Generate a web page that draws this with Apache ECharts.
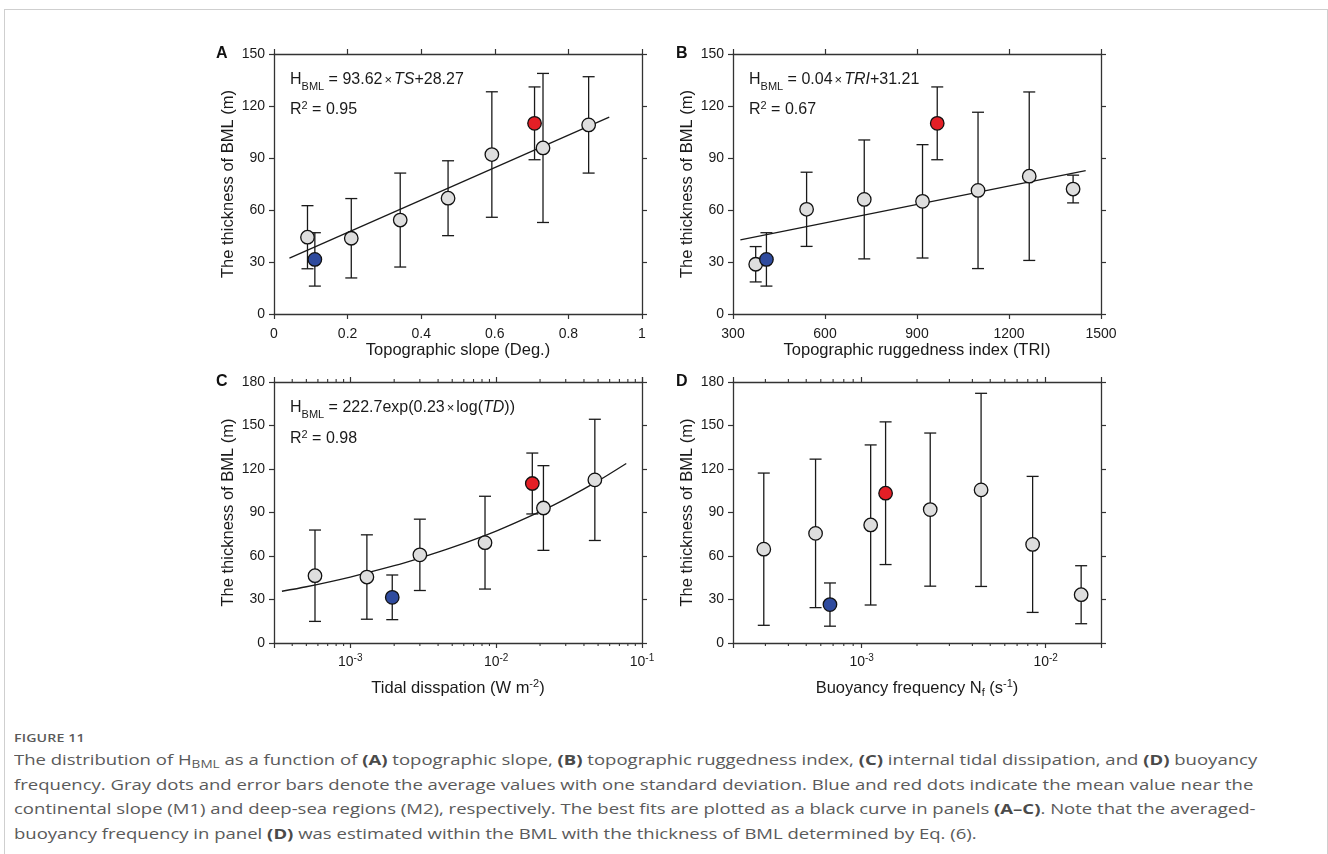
<!DOCTYPE html>
<html>
<head>
<meta charset="utf-8">
<title>Thickness of the bottom mixed layer</title>
<script src="https://cdn.jsdelivr.net/npm/echarts@6/dist/echarts.min.js"></script>
<style>
  html, body { margin: 0; padding: 0; background: #fff; width: 1328px; height: 854px; overflow: hidden; }
  #frame { position: absolute; left: 4px; top: 9px; width: 1322px; height: 900px; border: 1px solid #cfcfcf; border-bottom: none; }
  #chart { position: absolute; left: 0; top: 0; width: 1328px; height: 720px; }
  #caption { position: absolute; left: 14px; top: 729px; font-family: 'Open Sans', sans-serif; color: #5a5a5a;
             transform: scaleX(1.235); transform-origin: 0 0; }
  #caption .fig { font-size: 11.5px; font-weight: 600; line-height: 18px; letter-spacing: 0.1px; }
  #caption .txt { font-size: 15px; line-height: 24.7px; white-space: nowrap; }
  #caption .txt b { font-weight: 700; color: #4a4a4a; }
  #caption sub { font-size: 11px; vertical-align: -3px; line-height: 0; }
</style>
</head>
<body>
<div id="frame"></div>
<div id="chart"></div>
<div id="caption">
  <div class="fig">FIGURE 11</div>
  <div class="txt">The distribution of H<sub>BML</sub> as a function of <b>(A)</b> topographic slope, <b>(B)</b> topographic ruggedness index, <b>(C)</b> internal tidal dissipation, and <b>(D)</b> buoyancy</div>
  <div class="txt">frequency. Gray dots and error bars denote the average values with one standard deviation. Blue and red dots indicate the mean value near the</div>
  <div class="txt">continental slope (M1) and deep-sea regions (M2), respectively. The best fits are plotted as a black curve in panels <b>(A–C)</b>. Note that the averaged-</div>
  <div class="txt">buoyancy frequency in panel <b>(D)</b> was estimated within the BML with the thickness of BML determined by Eq. (6).</div>
</div>
<script>
// ---------------- data ----------------
// Panel A: topographic slope (deg) vs. BML thickness (m), mean ± one standard deviation
const slopeX    = [0.091, 0.210, 0.343, 0.473, 0.592, 0.731, 0.855];
const slopeMean = [44.3, 43.7, 54.2, 66.8, 92.0, 95.8, 109.1];
const slopeSd   = [18.2, 22.9, 27.1, 21.6, 36.2, 43.0, 27.8];
const slopeM1   = [0.111, 31.5, 15.4];   // [x, mean, sd] continental slope
const slopeM2   = [0.708, 110.0, 21.0];  // [x, mean, sd] deep sea
const slopeFit  = [[0.042, 32.2], [0.911, 113.6]];

// Panel B: topographic ruggedness index
const triX    = [374, 540, 728, 918, 1099, 1266, 1409];
const triMean = [28.7, 60.4, 66.1, 65.0, 71.3, 79.5, 72.1];
const triSd   = [10.2, 21.4, 34.3, 32.7, 45.1, 48.6, 8.0];
const triM1   = [409, 31.5, 15.4];
const triM2   = [966, 110.0, 21.0];
const triFit  = [[324, 42.7], [1450, 82.7]];

// Panel C: internal tidal dissipation (W m^-2)
const tdX    = [5.73e-4, 1.30e-3, 3.00e-3, 8.39e-3, 2.11e-2, 4.75e-2];
const tdMean = [46.4, 45.5, 60.8, 69.2, 93.1, 112.5];
const tdSd   = [31.5, 29.1, 24.6, 32.0, 29.2, 41.8];
const tdM1   = [1.94e-3, 31.5, 15.4];
const tdM2   = [1.77e-2, 110.0, 21.0];
const tdFit  = [[3.4e-4, 35.7], [5e-4, 38.8], [1e-3, 45.5], [2e-3, 53.3], [3e-3, 58.6],
                [5e-3, 65.9], [1e-2, 77.2], [2e-2, 90.6], [3e-2, 99.4], [5e-2, 111.8], [7.8e-2, 123.8]];

// Panel D: buoyancy frequency N_f (s^-1)
const nfX    = [2.94e-4, 5.62e-4, 1.12e-3, 2.36e-3, 4.46e-3, 8.50e-3, 1.56e-2];
const nfMean = [64.7, 75.6, 81.4, 92.0, 105.6, 68.0, 33.3];
const nfSd   = [52.5, 51.2, 55.2, 52.8, 66.6, 46.9, 20.0];
const nfM1   = [6.73e-4, 26.5, 14.9];
const nfM2   = [1.35e-3, 103.3, 49.2];

// axis ranges
const slopeRange = [0, 1, 0.2];
const triRange   = [300, 1500, 300];
const tdRange    = [3e-4, 1e-1];
const nfRange    = [2e-4, 2e-2];
const yRangeAB   = [0, 150, 30];
const yRangeCD   = [0, 180, 30];

// ---------------- styles ----------------
const FONT = "'Liberation Sans', Arial, Helvetica, sans-serif";
const INK = '#1a1a1a';
const AXIS = '#333333';
const GRAY = '#dedede';
const BLUE = '#2f4b9e';
const RED = '#e41f26';
const DOT = 13.5;

const grids = [
  { left: 274, top: 54,  width: 368, height: 260 },
  { left: 733, top: 54,  width: 368, height: 260 },
  { left: 274, top: 382, width: 368, height: 261 },
  { left: 733, top: 382, width: 368, height: 261 }
].map(g => Object.assign({ containLabel: false, outerBoundsMode: 'none' }, g));

// plain numbers, no digit grouping
const plainNum = v => String(+(+v).toFixed(6));

function isDecade(v) {
  const e = Math.log10(v);
  return Math.abs(e - Math.round(e)) < 1e-6;
}
const logLabel = v => isDecade(v) ? '{b|10}{s|' + Math.round(Math.log10(v)) + '}' : '';
const logRich = {
  b: { fontSize: 14, fontFamily: FONT, color: INK, lineHeight: 16 },
  s: { fontSize: 10, fontFamily: FONT, color: INK, lineHeight: 10, padding: [0, 0, 8, 0] }
};

function xAxes(gi, cfg) {
  const common = {
    gridIndex: gi,
    type: cfg.log ? 'log' : 'value',
    min: cfg.range[0], max: cfg.range[1],
    splitLine: { show: false },
    axisLine: { show: true, onZero: false, lineStyle: { color: AXIS, width: 1.3 } },
    axisTick: { show: true, inside: false, length: 5, lineStyle: { color: AXIS, width: 1.2 } }
  };
  if (cfg.log) common.logBase = 10; else common.interval = cfg.range[2];
  const bottom = Object.assign({}, common, {
    position: 'bottom',
    axisLabel: {
      show: true, margin: cfg.log ? 11 : 13, fontSize: 14, fontFamily: FONT, color: INK,
      formatter: cfg.log ? logLabel : plainNum,
      rich: cfg.log ? logRich : undefined,
      showMinLabel: true, showMaxLabel: true, hideOverlap: false
    },
    name: cfg.name, nameLocation: 'middle', nameGap: cfg.nameGap,
    nameTextStyle: { fontSize: 16.5, fontFamily: FONT, color: INK, rich: cfg.nameRich }
  });
  const top = Object.assign({}, common, { position: 'top', axisLabel: { show: false } });
  return [bottom, top];
}

function yAxes(gi, range) {
  const common = {
    gridIndex: gi, type: 'value', min: range[0], max: range[1], interval: range[2],
    splitLine: { show: false },
    axisLine: { show: true, onZero: false, lineStyle: { color: AXIS, width: 1.3 } },
    axisTick: { show: true, inside: false, length: 5, lineStyle: { color: AXIS, width: 1.2 } }
  };
  const left = Object.assign({}, common, {
    position: 'left',
    axisLabel: { show: true, margin: 9, fontSize: 14, fontFamily: FONT, color: INK, formatter: plainNum },
    name: 'The thickness of BML (m)', nameLocation: 'middle', nameGap: 37,
    nameTextStyle: { fontSize: 16.5, fontFamily: FONT, color: INK }
  });
  const right = Object.assign({}, common, { position: 'right', axisLabel: { show: false } });
  return [left, right];
}

const supRich = {
  n: { fontSize: 16.5, fontFamily: FONT, color: INK, lineHeight: 18 },
  sup: { fontSize: 11, fontFamily: FONT, color: INK, lineHeight: 11, padding: [0, 0, 8, 0] },
  sub: { fontSize: 11, fontFamily: FONT, color: INK, lineHeight: 11, padding: [9, 0, 0, 0] }
};

const xAxis = [].concat(
  xAxes(0, { range: slopeRange, name: 'Topographic slope (Deg.)', nameGap: 28 }),
  xAxes(1, { range: triRange, name: 'Topographic ruggedness index (TRI)', nameGap: 28 }),
  xAxes(2, { range: tdRange, log: true, nameGap: 36, nameRich: supRich,
             name: '{n|Tidal disspation (W m}{sup|-2}{n|)}' }),
  xAxes(3, { range: nfRange, log: true, nameGap: 36, nameRich: supRich,
             name: '{n|Buoyancy frequency N}{sub|f}{n| (s}{sup|-1}{n|)}' })
);
const yAxis = [].concat(yAxes(0, yRangeAB), yAxes(1, yRangeAB), yAxes(2, yRangeCD), yAxes(3, yRangeCD));

// ---------------- series helpers ----------------
function errorBarItem(params, api) {
  const x = api.value(0), lo = api.value(1), hi = api.value(2);
  const a = api.coord([x, hi]), b = api.coord([x, lo]);
  const w = 6;
  const style = { stroke: INK, lineWidth: 1.3, fill: null };
  return {
    type: 'group',
    children: [
      { type: 'line', shape: { x1: a[0], y1: a[1], x2: b[0], y2: b[1] }, style },
      { type: 'line', shape: { x1: a[0] - w, y1: a[1], x2: a[0] + w, y2: a[1] }, style },
      { type: 'line', shape: { x1: b[0] - w, y1: b[1], x2: b[0] + w, y2: b[1] }, style }
    ]
  };
}

function panelSeries(gi, xs, mean, sd, m1, m2, fit) {
  const ax = { xAxisIndex: gi * 2, yAxisIndex: gi * 2 };
  const bars = xs.map((x, i) => [x, mean[i] - sd[i], mean[i] + sd[i]])
    .concat([m1, m2].map(p => [p[0], p[1] - p[2], p[1] + p[2]]));
  const out = [];
  if (fit) {
    out.push(Object.assign({
      type: 'line', data: fit, showSymbol: false, symbol: 'none', smooth: fit.length > 2 ? 0.3 : false,
      lineStyle: { color: INK, width: 1.3 }, z: 2, silent: true
    }, ax));
  }
  out.push(Object.assign({
    type: 'custom', renderItem: errorBarItem, data: bars, encode: { x: 0, y: [1, 2] }, z: 3, silent: true
  }, ax));
  const dot = color => ({ color: color, borderColor: '#111', borderWidth: 1.3, opacity: 1 });
  out.push(Object.assign({
    type: 'scatter', data: xs.map((x, i) => [x, mean[i]]), symbol: 'circle', symbolSize: DOT,
    itemStyle: dot(GRAY), z: 4, silent: true
  }, ax));
  out.push(Object.assign({
    type: 'scatter', data: [[m1[0], m1[1]]], symbol: 'circle', symbolSize: DOT,
    itemStyle: dot(BLUE), z: 5, silent: true
  }, ax));
  out.push(Object.assign({
    type: 'scatter', data: [[m2[0], m2[1]]], symbol: 'circle', symbolSize: DOT,
    itemStyle: dot(RED), z: 5, silent: true
  }, ax));
  return out;
}

// minor ticks (2..9 × 10^n) on the bottom and top edges of a log-x panel
function minorTicks(gi, range) {
  const vals = [];
  for (let e = -6; e <= 1; e++) {
    for (let k = 2; k <= 9; k++) {
      const v = k * Math.pow(10, e);
      if (v > range[0] * 1.0001 && v < range[1] * 0.9999) vals.push([v, 0]);
    }
  }
  return {
    type: 'custom', xAxisIndex: gi * 2, yAxisIndex: gi * 2, data: vals, clip: false, silent: true, z: 1,
    encode: { x: 0, y: 1 },
    renderItem(params, api) {
      const cs = params.coordSys;
      const px = api.coord([api.value(0), 0])[0];
      const bottom = cs.y + cs.height, top = cs.y;
      const style = { stroke: AXIS, lineWidth: 1.1 };
      return {
        type: 'group',
        children: [
          { type: 'line', shape: { x1: px, y1: bottom, x2: px, y2: bottom + 3 }, style },
          { type: 'line', shape: { x1: px, y1: top, x2: px, y2: top - 3 }, style }
        ]
      };
    }
  };
}

const series = [].concat(
  panelSeries(0, slopeX, slopeMean, slopeSd, slopeM1, slopeM2, slopeFit),
  panelSeries(1, triX, triMean, triSd, triM1, triM2, triFit),
  panelSeries(2, tdX, tdMean, tdSd, tdM1, tdM2, tdFit),
  panelSeries(3, nfX, nfMean, nfSd, nfM1, nfM2, null),
  [minorTicks(2, tdRange), minorTicks(3, nfRange)]
);

// ---------------- annotations ----------------
const base = { fontFamily: FONT, color: INK, fontWeight: 'normal' };
const eqRich = {
  m: Object.assign({ fontSize: 16, lineHeight: 20 }, base),
  i: Object.assign({ fontSize: 16, lineHeight: 20, fontStyle: 'italic' }, base),
  x: Object.assign({ fontSize: 13, lineHeight: 20, padding: [0, 2, 0, 2] }, base),
  s: Object.assign({ fontSize: 11, lineHeight: 11, padding: [13, 0, 0, 0] }, base),
  p: Object.assign({ fontSize: 11, lineHeight: 11, padding: [0, 0, 9, 0] }, base)
};
function note(text, left, top) {
  return { text: text, left: left, top: top, padding: 0,
           textStyle: Object.assign({ rich: eqRich, fontSize: 16 }, base) };
}
function letter(text, left, top) {
  return { text: text, left: left, top: top, padding: 0,
           textStyle: { fontSize: 16, fontWeight: 'bold', fontFamily: FONT, color: '#111', lineHeight: 16 } };
}
const title = [
  letter('A', 216, 46), letter('B', 676, 46), letter('C', 216, 374), letter('D', 676, 374),
  note('{m|H}{s|BML}{m| = 93.62}{x|×}{i|TS}{m|+28.27}', 290, 70),
  note('{m|R}{p|2}{m| = 0.95}', 290, 100),
  note('{m|H}{s|BML}{m| = 0.04}{x|×}{i|TRI}{m|+31.21}', 749, 70),
  note('{m|R}{p|2}{m| = 0.67}', 749, 100),
  note('{m|H}{s|BML}{m| = 222.7exp(0.23}{x|×}{m|log(}{i|TD}{m|))}', 290, 398),
  note('{m|R}{p|2}{m| = 0.98}', 290, 429)
];

const chart = echarts.init(document.getElementById('chart'), null, { renderer: 'canvas' });
chart.setOption({
  animation: false,
  backgroundColor: 'transparent',
  textStyle: { fontFamily: FONT },
  title: title,
  grid: grids,
  xAxis: xAxis,
  yAxis: yAxis,
  series: series
});
</script>
</body>
</html>
